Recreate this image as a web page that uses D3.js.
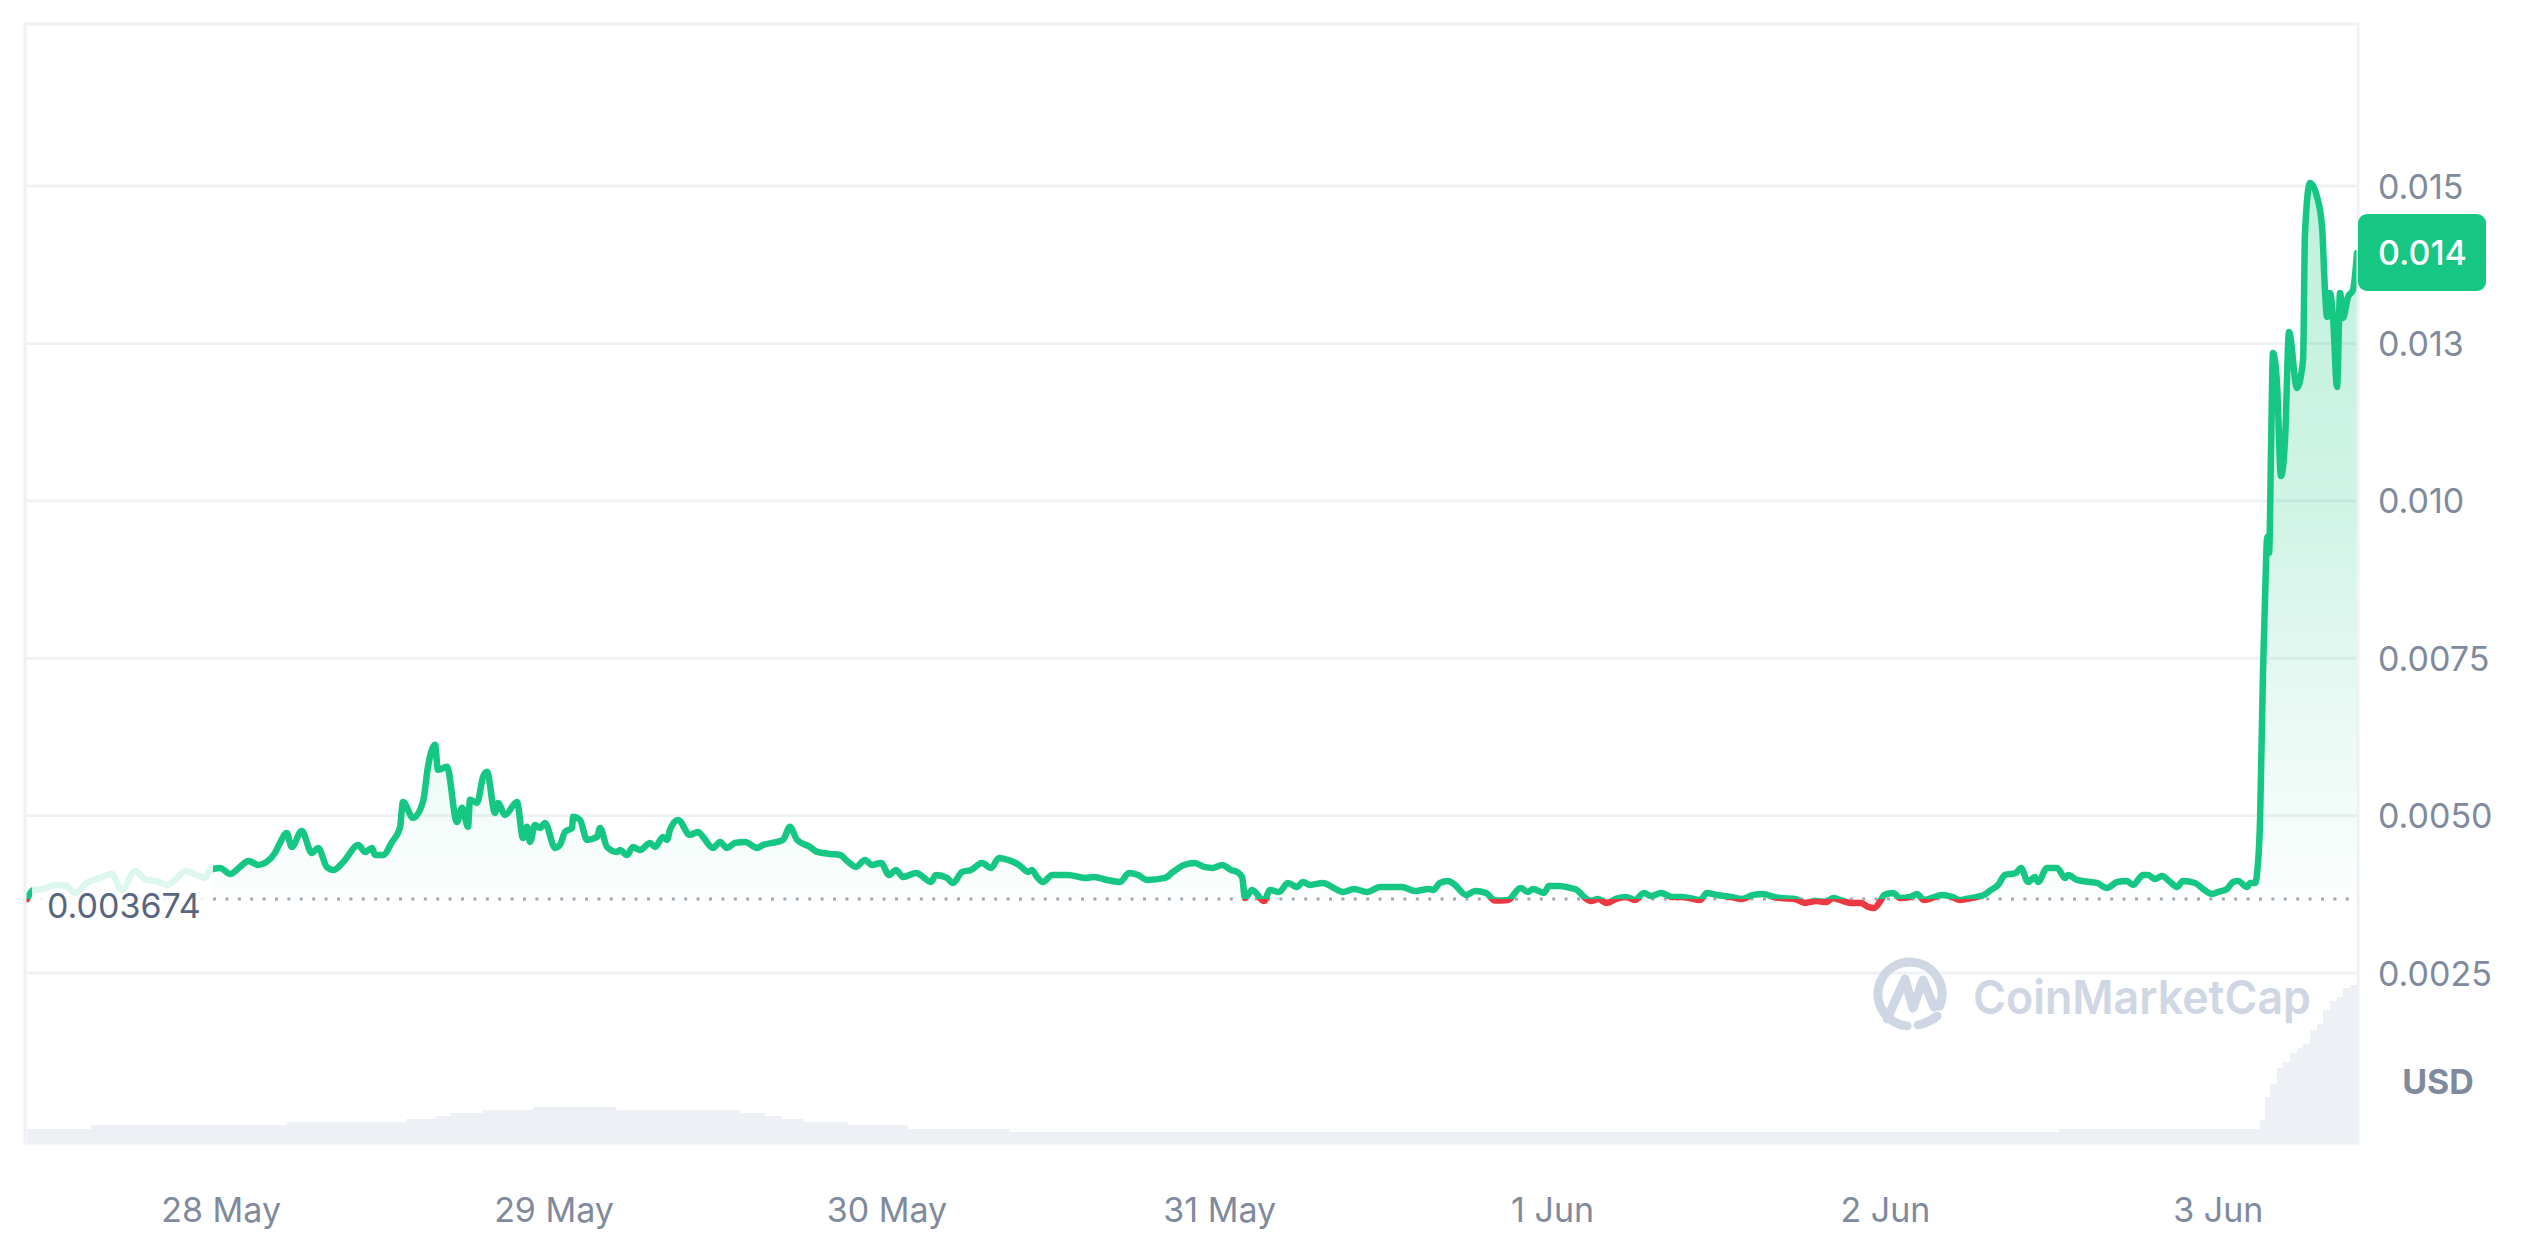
<!DOCTYPE html>
<html><head><meta charset="utf-8">
<script src="https://cdn.jsdelivr.net/npm/d3@7"></script>
<style>html,body{margin:0;padding:0;background:#fff;} svg{display:block;font-family:Inter,"Noto Sans",sans-serif;}</style>
</head><body>
<svg id="chart" width="2538" height="1260"></svg>
<script>
// ---------- data ----------
const startTime = new Date(2024, 4, 27, 10, 0);
const hours = [0,0.45,1.18,2.02,2.86,3.46,4.30,5.26,6.11,6.83,
7.79,8.63,9.35,10.07,10.67,11.39,12.24,12.83,13.20,13.92,
14.64,15.36,15.96,16.68,17.28,17.88,18.24,18.72,19.09,19.81,
20.53,21.00,21.61,22.09,22.81,23.89,24.37,24.88,25.09,25.67,
26.32,26.89,27.11,27.83,28.55,28.91,29.42,29.63,30.28,31.00,
31.37,31.80,31.94,32.45,32.88,33.17,33.74,33.96,34.47,35.33,
35.76,36.05,36.27,36.63,36.99,37.35,38.07,38.43,38.79,39.30,
39.37,39.87,40.38,41.10,41.32,41.82,42.54,42.76,43.26,43.69,
44.20,44.92,45.28,45.86,46.15,46.36,46.94,47.80,48.38,48.74,
49.46,49.97,50.47,51.05,51.77,52.64,53.07,54.08,54.51,55.01,
55.52,56.46,56.96,57.90,58.62,59.20,59.77,60.42,60.93,61.58,
62.15,62.66,63.16,64.10,65.18,65.54,66.33,66.77,67.42,68.07,
68.86,69.51,70.08,70.73,71.53,72.18,72.46,72.82,73.26,73.91,
75.06,76.28,76.93,77.87,78.81,79.46,80.11,80.76,82.05,82.63,
83.42,84.22,84.87,85.52,86.16,86.81,87.25,87.61,87.82,88.33,
89.19,89.63,90.27,90.92,91.57,92.00,92.51,93.45,94.09,94.89,
95.68,96.62,97.56,99.14,100.08,101.09,101.38,101.88,102.46,102.96,
103.76,104.41,105.20,105.85,106.79,107.69,108.23,108.59,109.38,109.74,
110.53,111.26,111.76,112.26,112.77,113.27,113.92,114.57,115.29,115.94,
116.59,117.10,117.82,118.61,119.33,119.84,120.63,121.13,121.85,122.86,
123.66,124.45,125.17,125.96,126.47,127.48,128.20,128.99,129.72,130.22,
130.72,131.52,132.24,132.74,133.18,133.68,133.90,134.55,135.05,135.77,
136.28,136.78,137.57,138.08,138.80,139.38,139.81,140.60,141.11,141.61,
142.12,142.62,143.41,143.77,144.28,144.79,145.00,145.65,146.37,146.95,
147.16,147.81,148.75,149.25,149.97,150.70,151.42,151.85,152.57,152.93,
153.44,153.94,154.52,155.02,155.45,156.32,156.90,157.55,157.98,158.63,
159.06,159.42,160.07,160.29,160.65,160.79,161.01,161.22,161.37,161.51,
161.58,161.66,161.80,161.94,162.23,162.52,162.81,163.10,163.67,164.11,
164.25,164.61,165.12,165.48,165.70,165.84,166.05,166.27,166.56,166.78,
166.99,167.35,167.71,168.00];
const prices = [0.003674,0.003819,0.003835,0.003899,0.003883,0.003771,0.003930,0.004010,0.004073,0.003819,
0.004121,0.003978,0.003962,0.003899,0.003978,0.004121,0.004057,0.004010,0.004137,0.004169,
0.004073,0.004185,0.004280,0.004217,0.004264,0.004407,0.004566,0.004725,0.004502,0.004757,
0.004407,0.004487,0.004185,0.004137,0.004264,0.004534,0.004423,0.004487,0.004375,0.004375,
0.004582,0.004805,0.005218,0.004964,0.005218,0.005775,0.006125,0.005727,0.005775,0.004900,
0.005123,0.004821,0.005250,0.005202,0.005615,0.005695,0.005043,0.005202,0.005011,0.005218,
0.004646,0.004821,0.004582,0.004852,0.004805,0.004884,0.004487,0.004534,0.004741,0.004805,
0.004980,0.004932,0.004614,0.004662,0.004805,0.004502,0.004423,0.004455,0.004375,0.004502,
0.004455,0.004566,0.004502,0.004662,0.004614,0.004773,0.004932,0.004694,0.004741,0.004662,
0.004487,0.004582,0.004487,0.004566,0.004582,0.004487,0.004534,0.004582,0.004614,0.004821,
0.004614,0.004502,0.004423,0.004391,0.004375,0.004264,0.004185,0.004296,0.004216,0.004248,
0.004058,0.004137,0.004026,0.004089,0.003946,0.004058,0.004010,0.003930,0.004105,0.004137,
0.004248,0.004169,0.004328,0.004296,0.004216,0.004105,0.004137,0.004026,0.003946,0.004058,
0.004058,0.004010,0.004026,0.003978,0.003946,0.004089,0.004058,0.003978,0.004010,0.004105,
0.004216,0.004248,0.004185,0.004169,0.004216,0.004137,0.004105,0.004026,0.003692,0.003819,
0.003644,0.003819,0.003787,0.003930,0.003867,0.003946,0.003899,0.003930,0.003867,0.003787,
0.003835,0.003787,0.003867,0.003867,0.003803,0.003835,0.003819,0.003930,0.003962,0.003899,
0.003740,0.003803,0.003771,0.003650,0.003660,0.003851,0.003787,0.003835,0.003771,0.003883,
0.003883,0.003851,0.003819,0.003708,0.003644,0.003676,0.003612,0.003676,0.003708,0.003660,
0.003771,0.003724,0.003771,0.003708,0.003708,0.003692,0.003660,0.003771,0.003740,0.003708,
0.003676,0.003740,0.003755,0.003708,0.003692,0.003676,0.003612,0.003644,0.003628,0.003692,
0.003660,0.003612,0.003612,0.003549,0.003533,0.003660,0.003740,0.003771,0.003692,0.003708,
0.003755,0.003660,0.003708,0.003740,0.003708,0.003660,0.003676,0.003708,0.003740,0.003819,
0.003899,0.004058,0.004089,0.004169,0.003946,0.004026,0.003946,0.004169,0.004169,0.004010,
0.004058,0.003978,0.003946,0.003930,0.003851,0.003946,0.003962,0.003899,0.004058,0.004058,
0.003994,0.004042,0.003946,0.003867,0.003962,0.003930,0.003835,0.003755,0.003787,0.003835,
0.003946,0.003962,0.003867,0.003930,0.003930,0.004073,0.004931,0.007266,0.008473,0.009394,
0.009442,0.009172,0.010808,0.012348,0.011872,0.010395,0.010967,0.012682,0.011793,0.012237,
0.014254,0.015048,0.014826,0.014349,0.013301,0.012920,0.013301,0.012920,0.011808,0.013301,
0.012904,0.013237,0.013348,0.013936];
const volHours = [0,4.61,18.67,27.33,29.42,30.50,32.88,36.48,42.47,51.41,53.21,54.44,56.02,59.20,63.52,70.88,146.51,160.79,
161.01,161.37,161.73,162.23,162.67,163.18,163.68,164.11,164.61,165.12,165.55,166.05,166.56,166.99,167.50,168.00];
const volumes = [140000,180000,210000,240000,270000,300000,330000,360000,330000,300000,270000,240000,210000,180000,140000,110000,140000,140000,
230000,460000,590000,750000,810000,900000,950000,990000,1130000,1190000,1330000,1420000,1460000,1550000,1580000,1600000];
const basePrice = 0.003674;
const baseLabel = "0.003674";
const lastPrice = 0.013936;
const lastLabel = "0.014";
const yTickValues = [0.0025, 0.005, 0.0075, 0.01, 0.0125, 0.015];
const yTickLabels = ["0.0025", "0.0050", "0.0075", "0.010", "0.013", "0.015"];
const xTickDates = ["2024-05-28","2024-05-29","2024-05-30","2024-05-31","2024-06-01","2024-06-02","2024-06-03"];
const unitLabel = "USD";
const brandName = "CoinMarketCap";

// ---------- setup ----------
const W = 2538, H = 1260;
const plot = {left: 25, right: 2358, top: 24, bottom: 1143};
const GREEN = "#16c784", RED = "#ea3943", GRID = "#eff2f5", TICK = "#808a9d";

const svg = d3.select("#chart");
svg.append("rect").attr("width", W).attr("height", H).attr("fill", "#fff");

const toDate = h => new Date(+startTime + h * 3600000);
const x = d3.scaleTime().domain([startTime, toDate(168)]).range([27, 2357]);
const y = d3.scaleLinear().domain([0.0025, 0.015]).range([973, 186]);
const yVol = d3.scaleLinear().domain([0, 1700000]).range([plot.bottom, 973]);

const data = hours.map((h, i) => ({t: toDate(h), v: prices[i]}));
const vdata = volHours.map((h, i) => ({t: toDate(h), v: volumes[i]}));
const yb = y(basePrice);

const defs = svg.append("defs");
defs.append("clipPath").attr("id", "above").append("rect")
  .attr("x", 0).attr("y", 0).attr("width", W).attr("height", yb);
defs.append("clipPath").attr("id", "below").append("rect")
  .attr("x", 0).attr("y", yb).attr("width", W).attr("height", H - yb);
const gg = defs.append("linearGradient").attr("id", "gfill")
  .attr("gradientUnits", "userSpaceOnUse").attr("x1", 0).attr("x2", 0)
  .attr("y1", y(0.015)).attr("y2", yb);
[[0, 0.27], [0.45, 0.2], [0.65, 0.13], [0.85, 0.06], [1, 0.015]].forEach(([o, a]) =>
  gg.append("stop").attr("offset", o).attr("stop-color", GREEN).attr("stop-opacity", a));
const rg = defs.append("linearGradient").attr("id", "rfill")
  .attr("gradientUnits", "userSpaceOnUse").attr("x1", 0).attr("x2", 0)
  .attr("y1", yb).attr("y2", yb + 20);
rg.append("stop").attr("offset", 0).attr("stop-color", RED).attr("stop-opacity", 0.08);
rg.append("stop").attr("offset", 1).attr("stop-color", RED).attr("stop-opacity", 0.25);

// gridlines
svg.append("g").selectAll("line").data(yTickValues).join("line")
  .attr("x1", plot.left).attr("x2", plot.right)
  .attr("y1", d => y(d)).attr("y2", d => y(d))
  .attr("stroke", GRID).attr("stroke-width", 3);

// volume
svg.append("path").datum(vdata)
  .attr("d", d3.area().x(d => x(d.t)).y0(plot.bottom).y1(d => yVol(d.v)).curve(d3.curveStepAfter))
  .attr("fill", "#edf0f4");

// watermark
const wm = svg.append("g").attr("fill", "none").attr("stroke", "#cfd6e4")
  .attr("stroke-width", 9).attr("stroke-linecap", "round").attr("stroke-linejoin", "round");
const cx = 1910, cy = 994, r = 32;
const pt = a => [cx + r * Math.cos(a * Math.PI / 180), cy + r * Math.sin(a * Math.PI / 180)];
const p1 = pt(22), p2 = pt(95);
wm.append("path").attr("d", `M${p1[0]},${p1[1]} A${r},${r} 0 1 0 ${p2[0]},${p2[1]}`);
wm.append("path").attr("d", `M${cx+8},${cy+31} Q${cx+20},${cy+28} ${cx+27},${cy+22}`);
wm.append("path").attr("d", `M${cx-23},${cy+25} L${cx-5},${cy-15} L${cx+3},${cy+14} L${cx+13},${cy-14} L${cx+24},${cy+13} L${cx+31},${cy+7}`);
svg.append("text").attr("x", 1973).attr("y", 1014).text(brandName)
  .attr("font-size", 47).attr("font-weight", 600).attr("fill", "#cfd6e4")
  .attr("textLength", 338).attr("lengthAdjust", "spacingAndGlyphs");

// price fills
const area = d3.area().x(d => x(d.t)).y0(yb).y1(d => y(d.v)).curve(d3.curveMonotoneX);
svg.append("path").datum(data).attr("d", area).attr("fill", "url(#gfill)").attr("clip-path", "url(#above)");
svg.append("path").datum(data).attr("d", area).attr("fill", "url(#rfill)").attr("clip-path", "url(#below)");

// baseline dots
svg.append("line").attr("x1", 27).attr("x2", 2357).attr("y1", yb).attr("y2", yb)
  .attr("stroke", "#a1a7b3").attr("stroke-width", 3).attr("stroke-dasharray", "3 9.4");

// price line
const line = d3.line().x(d => x(d.t)).y(d => y(d.v)).curve(d3.curveMonotoneX);
svg.append("path").datum(data).attr("d", line).attr("fill", "none").attr("stroke", GREEN)
  .attr("stroke-width", 6.5).attr("stroke-linejoin", "round").attr("stroke-linecap", "round")
  .attr("clip-path", "url(#above)");
svg.append("path").datum(data).attr("d", line).attr("fill", "none").attr("stroke", RED)
  .attr("stroke-width", 6.5).attr("stroke-linejoin", "round").attr("stroke-linecap", "round")
  .attr("clip-path", "url(#below)");

// base label
svg.append("rect").attr("x", 32).attr("y", yb - 39).attr("width", 181).attr("height", 88)
  .attr("fill", "#fff").attr("fill-opacity", 0.86);
svg.append("text").attr("x", 47).attr("y", yb + 19).text(baseLabel)
  .attr("font-size", 34).attr("fill", "#58667e");

// frame
svg.append("rect").attr("x", plot.left).attr("y", plot.top)
  .attr("width", plot.right - plot.left).attr("height", plot.bottom - plot.top)
  .attr("fill", "none").attr("stroke", GRID).attr("stroke-width", 3);

// y tick labels
svg.append("g").selectAll("text").data(yTickValues).join("text")
  .attr("x", 2378).attr("y", d => y(d) + 12.5)
  .text((d, i) => yTickLabels[i])
  .attr("font-size", 34).attr("fill", TICK);

// x tick labels
svg.append("g").selectAll("text").data(xTickDates.map(s => d3.timeParse("%Y-%m-%d")(s))).join("text")
  .attr("x", d => x(d)).attr("y", 1222).attr("text-anchor", "middle")
  .text(d => d3.timeFormat("%-d %b")(d))
  .attr("font-size", 34).attr("fill", TICK);

// unit label
svg.append("text").attr("x", 2438).attr("y", 1094).attr("text-anchor", "middle")
  .text(unitLabel).attr("font-size", 34).attr("font-weight", 700).attr("fill", TICK);

// last price badge
const yl = y(lastPrice);
svg.append("rect").attr("x", 2358).attr("y", yl - 39).attr("width", 128).attr("height", 77)
  .attr("rx", 9).attr("fill", GREEN);
svg.append("text").attr("x", 2378).attr("y", yl + 12.5).text(lastLabel)
  .attr("font-size", 34).attr("font-weight", 500).attr("fill", "#fff");
</script>
</body></html>
